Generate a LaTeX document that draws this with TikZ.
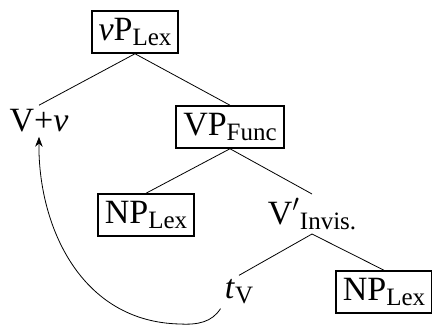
\documentclass[tikz,border=0pt]{standalone}
\usepackage{fontspec}
\setmainfont{Liberation Serif}
\usepackage{tikz}
\usetikzlibrary{arrows.meta}

\newcommand{\catsub}[1]{\raisebox{-0.32ex}{\fontsize{12.5}{14}\selectfont #1}}

\tikzset{
  cat/.style={font=\fontsize{17}{20}\selectfont, inner sep=2pt},
  catbox/.style={cat, draw, line width=1pt, inner sep=3.5pt},
  branch/.style={thin},
}

\begin{document}
\begin{tikzpicture}[x=0.5pt, y=-0.5pt]
\useasboundingbox (0,0) rectangle (432,325);
% tree nodes
\node[catbox] (vp) at (135,32) {\textit{v}P\catsub{Lex}};
\node[cat] (vv) at (39,121) {V+\textit{v}};
\node[catbox] (vpf) at (230,127) {VP\catsub{Func}};
\node[catbox] (np1) at (146,215) {NP\catsub{Lex}};
\node[cat] (vbar) at (312,214) {V$'$\catsub{Invis.}};
\node[cat] (tv) at (239,292) {\textit{t}\catsub{V}};
\node[catbox] (np2) at (384,292) {NP\catsub{Lex}};

% branches
\draw[branch] (vp.south) -- (vv.north);
\draw[branch] (vp.south) -- (vpf.north);
\draw[branch] (vpf.south) -- (np1.north);
\draw[branch] (vpf.south) -- (vbar.north);
\draw[branch] (vbar.south) -- (tv.north);
\draw[branch] (vbar.south) -- (np2.north);

% movement
\draw[-{Stealth[length=5pt]}] (tv.south west) .. controls (212,322) and (198,325) .. (180,324)
  .. controls (80,322) and (38,225) .. (vv.south);
\end{tikzpicture}
\end{document}
